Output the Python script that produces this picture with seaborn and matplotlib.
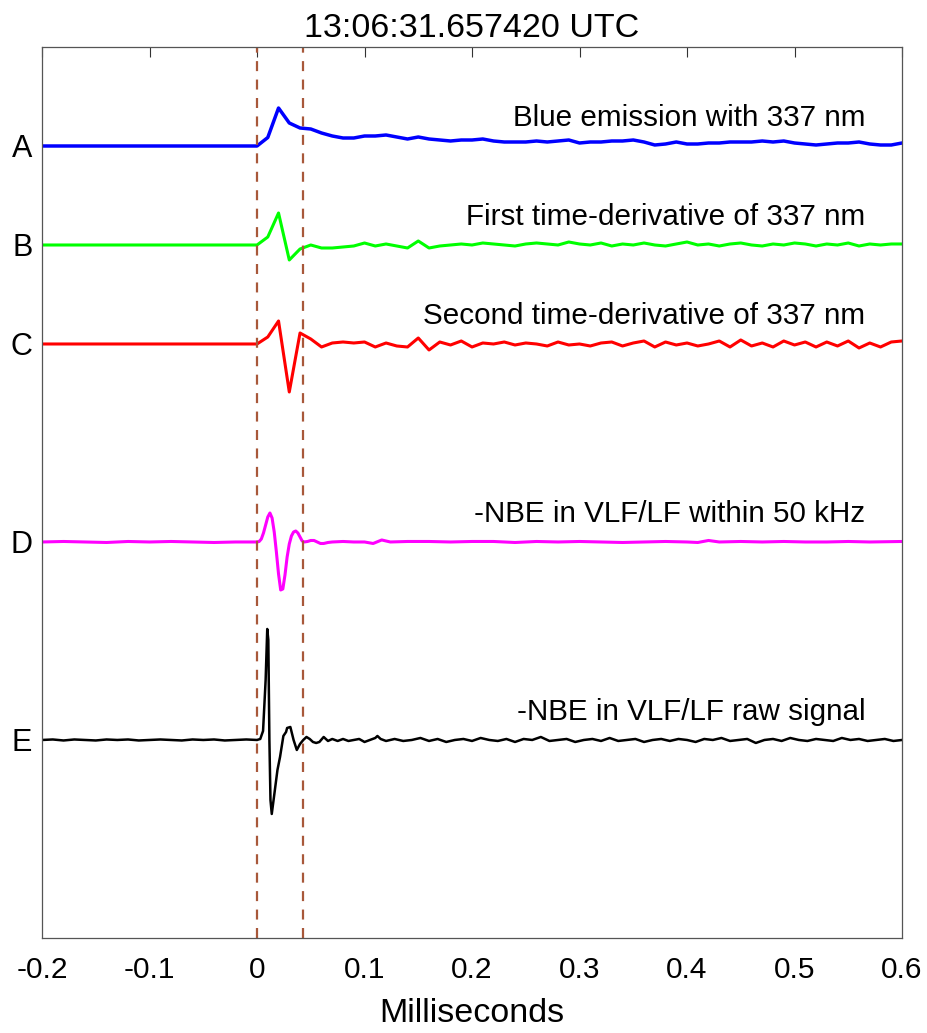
import numpy as np
import pandas as pd
import matplotlib
matplotlib.use("Agg")
import matplotlib.pyplot as plt
import seaborn as sns

# Trace baselines (vertical offsets, arbitrary units) and labels
trace_names = ["A", "B", "C", "D", "E"]
baselines = [792, 693, 594, 396, 198]
captions = [
    "Blue emission with 337 nm",
    "First time-derivative of 337 nm",
    "Second time-derivative of 337 nm",
    "-NBE in VLF/LF within 50 kHz",
    "-NBE in VLF/LF raw signal",
]
colors = ["#0000FF", "#00FF00", "#FF0000", "#FF00FF", "#000000"]
widths = [2.5, 2.2, 2.2, 2.2, 1.8]

title = "13:06:31.657420 UTC"
marker_times = [0.0, 0.043]
xticks = [-0.2, -0.1, 0, 0.1, 0.2, 0.3, 0.4, 0.5, 0.6]

# A: blue emission (sampled every 0.01 ms, flat before 0)
a_t = [-0.2, 0.0] + [round(0.01 * i, 2) for i in range(1, 61)]
a_v = [0, 0,
       8.5, 38, 23, 18, 17, 13, 10, 8, 8,
       10, 10, 11, 9, 7, 9, 7, 6, 5, 6,
       6, 7, 5, 4, 4, 4, 5, 4, 5, 6,
       3, 4, 4, 5, 5, 6, 4, 1, 2, 4,
       2, 2, 3, 3, 4, 4, 4, 5, 4, 5,
       3, 2, 1, 2, 3, 3, 4, 2, 1, 1, 3]

# B: first time-derivative
b_t = a_t
b_v = [0, 0,
       8, 32, -15, -4, 0, -3, -3, -2, -1,
       2, -1, 1, -1, -3, 4, -3, -1, 0, 1,
       0, 2, 1, 0, -1, 1, 2, 1, 0, 3,
       1, 0, 2, -1, 1, 0, 2, 0, -1, 1,
       3, 0, 1, -1, 1, 2, 0, -1, 1, 0,
       2, 1, -1, 1, 0, 2, -1, 1, 0, 1, 1]

# C: second time-derivative
c_t = a_t
c_v = [0, 0,
       7, 23, -48, 11, 5, -3, 1, 2, 1,
       2, -3, 1, -2, -3, 6, -6, 2, -1, 3,
       -3, 1, 0, 2, -1, 1, 0, -2, 2, -1,
       0, -2, 1, 2, -2, 1, 3, -3, 2, -1,
       1, -2, 0, 3, -3, 4, -2, 1, -3, 3,
       -1, 2, -3, 2, -2, 3, -4, 1, -3, 2, 3]

# D: filtered VLF/LF (-NBE within 50 kHz)
d_t = [-0.2, -0.18, -0.16, -0.14, -0.12, -0.1, -0.08, -0.06, -0.04, -0.02, 0.0,
       0.002, 0.004, 0.006, 0.008, 0.010, 0.012, 0.014, 0.016, 0.018, 0.020,
       0.022, 0.024, 0.026, 0.028, 0.030, 0.032, 0.034, 0.036, 0.038, 0.040,
       0.042, 0.044, 0.047, 0.050, 0.053, 0.056, 0.059, 0.062, 0.066, 0.07,
       0.08, 0.09, 0.10, 0.108, 0.116, 0.124, 0.14, 0.16, 0.18, 0.2,
       0.22, 0.24, 0.26, 0.28, 0.3, 0.32, 0.34, 0.36, 0.38, 0.4,
       0.41, 0.42, 0.43, 0.45, 0.47, 0.49, 0.51, 0.53, 0.55, 0.57, 0.6]
d_v = [0, 0.5, 0, -0.5, 0.5, 0, 0.5, 0, -0.5, 0, 0,
       0.5, 3, 9, 17, 25, 29, 24, 10, -10, -32,
       -48, -47, -33, -15, -2, 6, 10, 11, 9, 5,
       1, 0, 0.5, 1.5, 1.5, 0, -1.5, -1.5, -0.5, 0,
       0.5, 0, 0, -1.5, 2, 0, 0.5, 0.5, 0, 0.5,
       0.5, -0.5, 0.5, 0, 0.5, 0, -0.5, 0, 0.5, 0,
       -0.5, 1.5, 0, 0.5, 0, 0.5, 0, 0, 0.5, 0, 0.5]

# E: raw VLF/LF signal
e_t = [-0.2, -0.19, -0.18, -0.17, -0.16, -0.15, -0.14, -0.13, -0.12, -0.11,
       -0.1, -0.09, -0.08, -0.07, -0.06, -0.05, -0.04, -0.03, -0.02, -0.01, 0.0,
       0.003, 0.0056, 0.008, 0.0095, 0.0105, 0.0115, 0.0125, 0.0137, 0.016, 0.019,
       0.0214, 0.0245, 0.027, 0.028, 0.031, 0.034, 0.037, 0.040, 0.043, 0.046,
       0.049, 0.052, 0.055, 0.058, 0.062, 0.066, 0.07, 0.075, 0.08, 0.085,
       0.09, 0.095, 0.10, 0.105, 0.11, 0.112, 0.115, 0.12] + \
      [round(0.12 + 0.008 * i, 3) for i in range(1, 61)]
e_v = [0, 0.5, -0.5, 0.5, 0, -0.5, 0.5, 0, 0.5, -0.5,
       0, 0.5, 0, -0.5, 0.5, 0, 0.5, -0.5, 0, 0.5, 0,
       1, 9, 60, 111, 100, 0, -60, -74, -55, -30,
       -17, 4, 8, 12, 13, 0, -10, -4, 0, 3,
       1, -2, -3, -2, 3, -1, 1, -1, 1, -1,
       0, 1, -2, 0, 2, 4, 1, -1,
       1, -1, 0, 2, -1, 1, -2, 0, 1, -1,
       2, 0, -1, 1, -2, 1, 0, 3, -1, 0,
       1, -2, 0, 1, -1, 2, -1, 0, 1, -2,
       0, 1, -1, 1, 0, -2, 1, 0, 2, -1,
       0, 1, -3, 0, 1, -1, 2, 0, -1, 1,
       0, -1, 2, 0, 1, -1, 0, 1, -1, 0]

series = [(a_t, a_v), (b_t, b_v), (c_t, c_v), (d_t, d_v), (e_t, e_v)]

sns.set_style("white")
plt.rcParams["font.family"] = ["Liberation Sans", "DejaVu Sans"]
plt.rcParams["text.color"] = "black"
plt.rcParams["axes.labelcolor"] = "black"
plt.rcParams["xtick.color"] = "black"
plt.rcParams["ytick.color"] = "black"

fig = plt.figure(figsize=(9.28, 10.33), dpi=100)
ax = fig.add_axes([0.0453, 0.092, 0.9267, 0.8625])

for (t, v), base, col, lw in zip(series, baselines, colors, widths):
    df = pd.DataFrame({"t": t, "y": np.array(v, dtype=float) + base})
    sns.lineplot(data=df, x="t", y="y", ax=ax, color=col, linewidth=lw,
                 sort=False, estimator=None)

for mt in marker_times:
    ax.axvline(mt, color="#A8583A", linewidth=1.6, linestyle=(0, (4.5, 3.8)))

for base, cap in zip(baselines, captions):
    ax.text(0.566, base + 28, cap, ha="right", va="center", fontsize=21.3, color="black")

ax.set_xlim(-0.2, 0.6)
ax.set_ylim(0, 891)
ax.set_xticks(xticks)
ax.set_xticklabels([f"{x:g}" for x in xticks])
ax.set_yticks(baselines)
ax.set_yticklabels(trace_names)
ax.tick_params(axis="x", direction="in", length=7, width=0.8, top=True,
               labelsize=21.5, pad=13, color="#333333")
ax.tick_params(axis="y", length=0, labelsize=22, pad=7)
for s in ax.spines.values():
    s.set_color("#555555")
    s.set_linewidth(0.9)

ax.set_xlabel("Milliseconds", fontsize=24.5, labelpad=10)
ax.set_ylabel("")
ax.set_title(title, fontsize=24.5, pad=7, color="black")

fig.savefig("out.png", dpi=100)
